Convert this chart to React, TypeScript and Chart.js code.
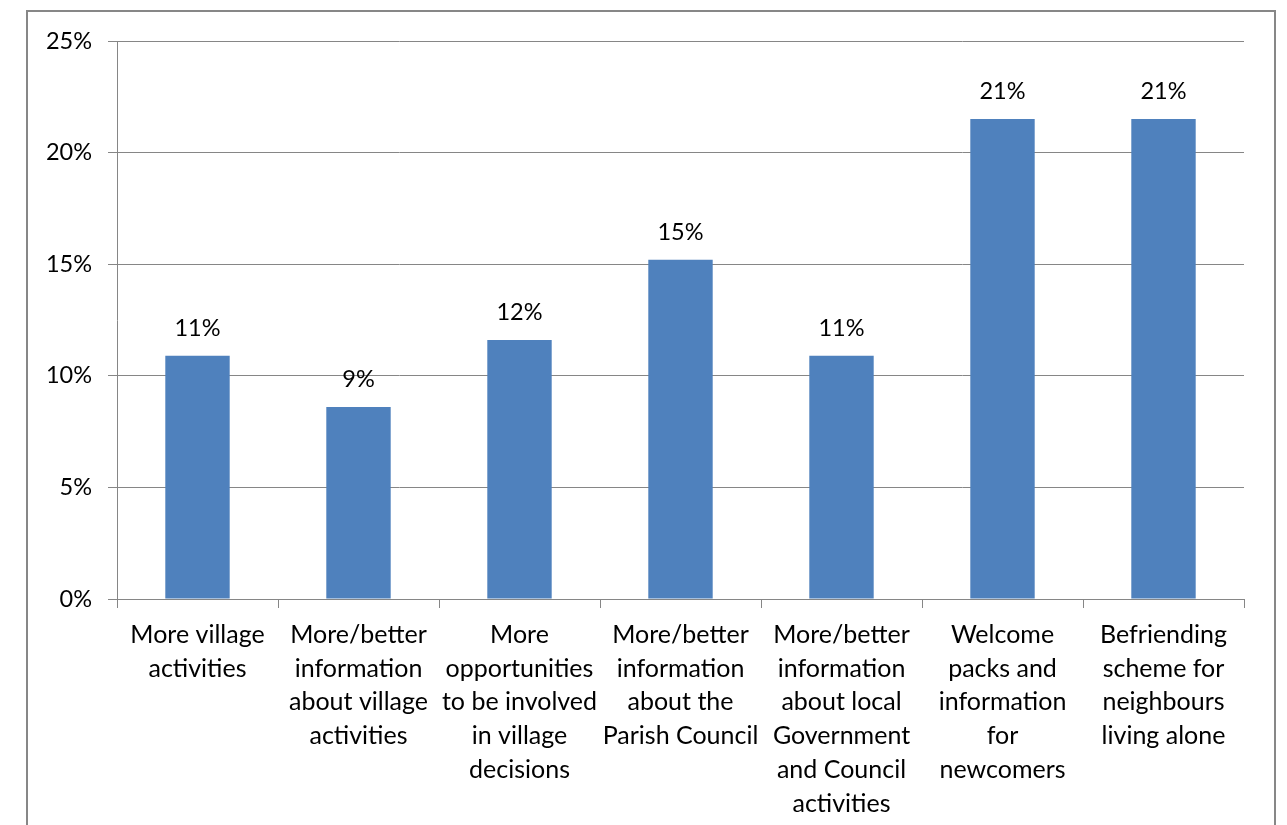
import React, { useEffect, useRef } from "react";
import { Chart, registerables } from "chart.js";

Chart.register(...registerables);

const categories: string[][] = [
  ["More village", "activities"],
  ["More/better", "information", "about village", "activities"],
  ["More", "opportunities", "to be involved", "in village", "decisions"],
  ["More/better", "information", "about the", "Parish Council"],
  ["More/better", "information", "about local", "Government", "and Council", "activities"],
  ["Welcome", "packs and", "information", "for", "newcomers"],
  ["Befriending", "scheme for", "neighbours", "living alone"],
];
const values: number[] = [10.9, 8.6, 11.6, 15.2, 10.9, 21.5, 21.5];
const valueLabels: string[] = ["11%", "9%", "12%", "15%", "11%", "21%", "21%"];
const yTicks: number[] = [0, 5, 10, 15, 20, 25];

const FONT = "Lato, 'Open Sans', sans-serif";

const framePlugin = {
  id: "frame",
  beforeDraw(chart: any) {
    const ctx = chart.ctx;
    ctx.save();
    ctx.fillStyle = "#ffffff";
    ctx.fillRect(0, 0, chart.width, chart.height);
    ctx.strokeStyle = "#878787";
    ctx.lineWidth = 2;
    ctx.strokeRect(27, 11, 1248, 840);
    ctx.restore();
  },
};

const valueLabelPlugin = {
  id: "valueLabels",
  afterDatasetsDraw(chart: any) {
    const ctx = chart.ctx;
    const meta = chart.getDatasetMeta(0);
    ctx.save();
    ctx.fillStyle = "#000000";
    ctx.font = `23.5px ${FONT}`;
    ctx.textAlign = "center";
    ctx.textBaseline = "alphabetic";
    meta.data.forEach((bar: any, i: number) => {
      ctx.fillText(valueLabels[i], bar.x, bar.y - 20);
    });
    ctx.restore();
  },
};

export default function App() {
  const ref = useRef<HTMLCanvasElement | null>(null);
  useEffect(() => {
    if (!ref.current) return;
    const chart = new Chart(ref.current, {
      type: "bar",
      data: {
        labels: categories,
        datasets: [
          {
            data: values,
            backgroundColor: "#4F81BD",
            borderWidth: 0,
            categoryPercentage: 1,
            barPercentage: 0.4,
          },
        ],
      },
      options: {
        animation: false,
        responsive: false,
        maintainAspectRatio: false,
        layout: { padding: { left: 0, top: 41, right: 43, bottom: 0 } },
        plugins: { legend: { display: false }, tooltip: { enabled: false } },
        scales: {
          x: {
            grid: {
              offset: true,
              drawOnChartArea: false,
              drawTicks: true,
              tickLength: 9,
              color: "#868686",
            },
            border: { display: true, color: "#868686", width: 1 },
            ticks: {
              color: "#000000",
              font: { family: FONT, size: 25, lineHeight: 1.35 },
              padding: 10,
              maxRotation: 0,
              autoSkip: false,
            },
            afterFit(scale: any) {
              scale.height = 226;
            },
          },
          y: {
            min: 0,
            max: 25,
            afterBuildTicks(scale: any) {
              scale.ticks = yTicks.map((v) => ({ value: v }));
            },
            grid: {
              color: "#868686",
              tickLength: 9,
              drawTicks: true,
            },
            border: { display: true, color: "#868686", width: 1 },
            ticks: {
              color: "#000000",
              font: { family: FONT, size: 23.5 },
              padding: 16,
              callback: (v: any) => `${v}%`,
            },
            afterFit(scale: any) {
              scale.width = 117;
            },
          },
        },
      },
      plugins: [framePlugin, valueLabelPlugin],
    });
    return () => chart.destroy();
  }, []);
  return (
    <div style={{ position: "fixed", left: 0, top: 0, width: 1287, height: 825 }}>
      <canvas ref={ref} width={1287} height={825} style={{ display: "block" }} />
    </div>
  );
}
